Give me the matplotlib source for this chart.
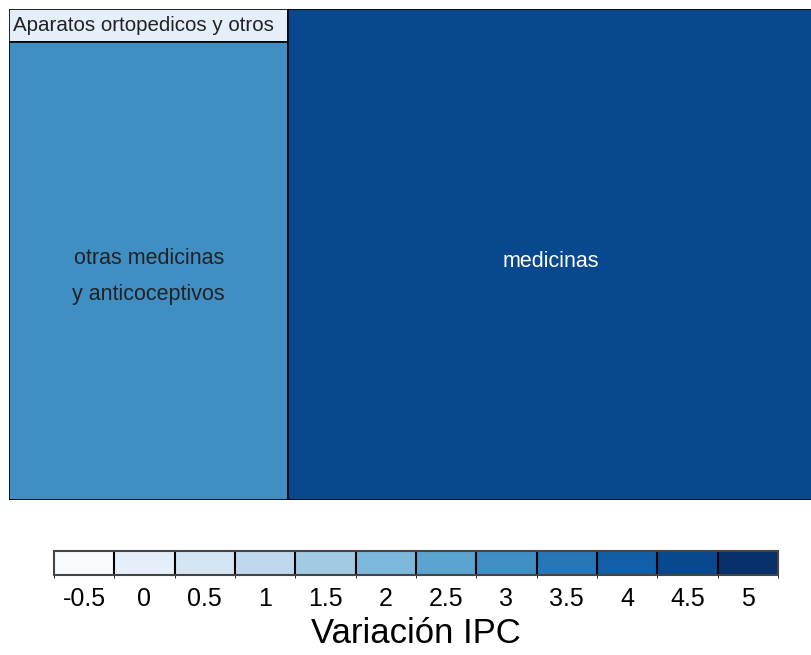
import numpy as np
import matplotlib
matplotlib.use("Agg")
from matplotlib import pyplot as plt
from matplotlib.colors import ListedColormap, BoundaryNorm
from matplotlib.patches import Rectangle

plt.rcParams['font.family'] = ['Liberation Sans', 'DejaVu Sans']

# data
labels = ["Aparatos ortopedicos y otros", "otras medicinas\ny anticoceptivos", "medicinas"]
weights = [2.3, 32.4, 65.3]
ipc = [0.0, 3.0, 4.5]
ticks = [-0.5, 0, 0.5, 1, 1.5, 2, 2.5, 3, 3.5, 4, 4.5, 5]
tick_labels = ["-0.5", "0", "0.5", "1", "1.5", "2", "2.5", "3", "3.5", "4", "4.5", "5"]

cmap = ListedColormap(plt.cm.Blues(np.linspace(0, 1, len(ticks))))
bounds = np.append(np.array(ticks) - 0.25, ticks[-1] + 0.25)
norm = BoundaryNorm(bounds, cmap.N)

fig = plt.figure(figsize=(8.12, 6.55), dpi=100)
ax = fig.add_axes([9/812, 155/655, 805/812, 491/655])
ax.set_xlim(0, 1)
ax.set_ylim(0, 1)
ax.axis("off")

# layout: left column holds the two small groups stacked, right holds the big one
total = sum(weights)
left_w = (weights[0] + weights[1]) / total
top_h = weights[0] / (weights[0] + weights[1])
rects = [
    (0, 1 - top_h, left_w, top_h),
    (0, 0, left_w, 1 - top_h),
    (left_w, 0, 1 - left_w, 1),
]

for i, (x, y, w, h) in enumerate(rects):
    ax.add_patch(Rectangle((x, y), w, h, facecolor=cmap(norm(ipc[i])),
                           edgecolor="black", linewidth=1.2))

x, y, w, h = rects[0]
ax.text(x + 0.005, y + h / 2, labels[0], ha="left", va="center", fontsize=14.8, color="#222222")
x, y, w, h = rects[1]
ax.text(x + w / 2, 0.456, labels[1], ha="center", va="center", fontsize=15.5,
        color="#222222", linespacing=1.95)
x, y, w, h = rects[2]
ax.text(x + w / 2, 0.486, labels[2], ha="center", va="center", fontsize=15.5, color="white")

# legend
cax = fig.add_axes([54/812, 80/655, 724/812, 24/655])
sm = plt.cm.ScalarMappable(cmap=cmap, norm=norm)
cb = fig.colorbar(sm, cax=cax, orientation="horizontal", drawedges=True, ticks=ticks)
cb.dividers.set_color("black")
cb.dividers.set_linewidth(1.5)
cb.outline.set_edgecolor("#444444")
cb.outline.set_linewidth(1.5)
cb.ax.tick_params(length=0, labelsize=18, pad=9)
cb.ax.set_xticklabels(tick_labels)
cb.set_label("Variación IPC", fontsize=25, labelpad=4)

fig.savefig("out.png", dpi=100)
